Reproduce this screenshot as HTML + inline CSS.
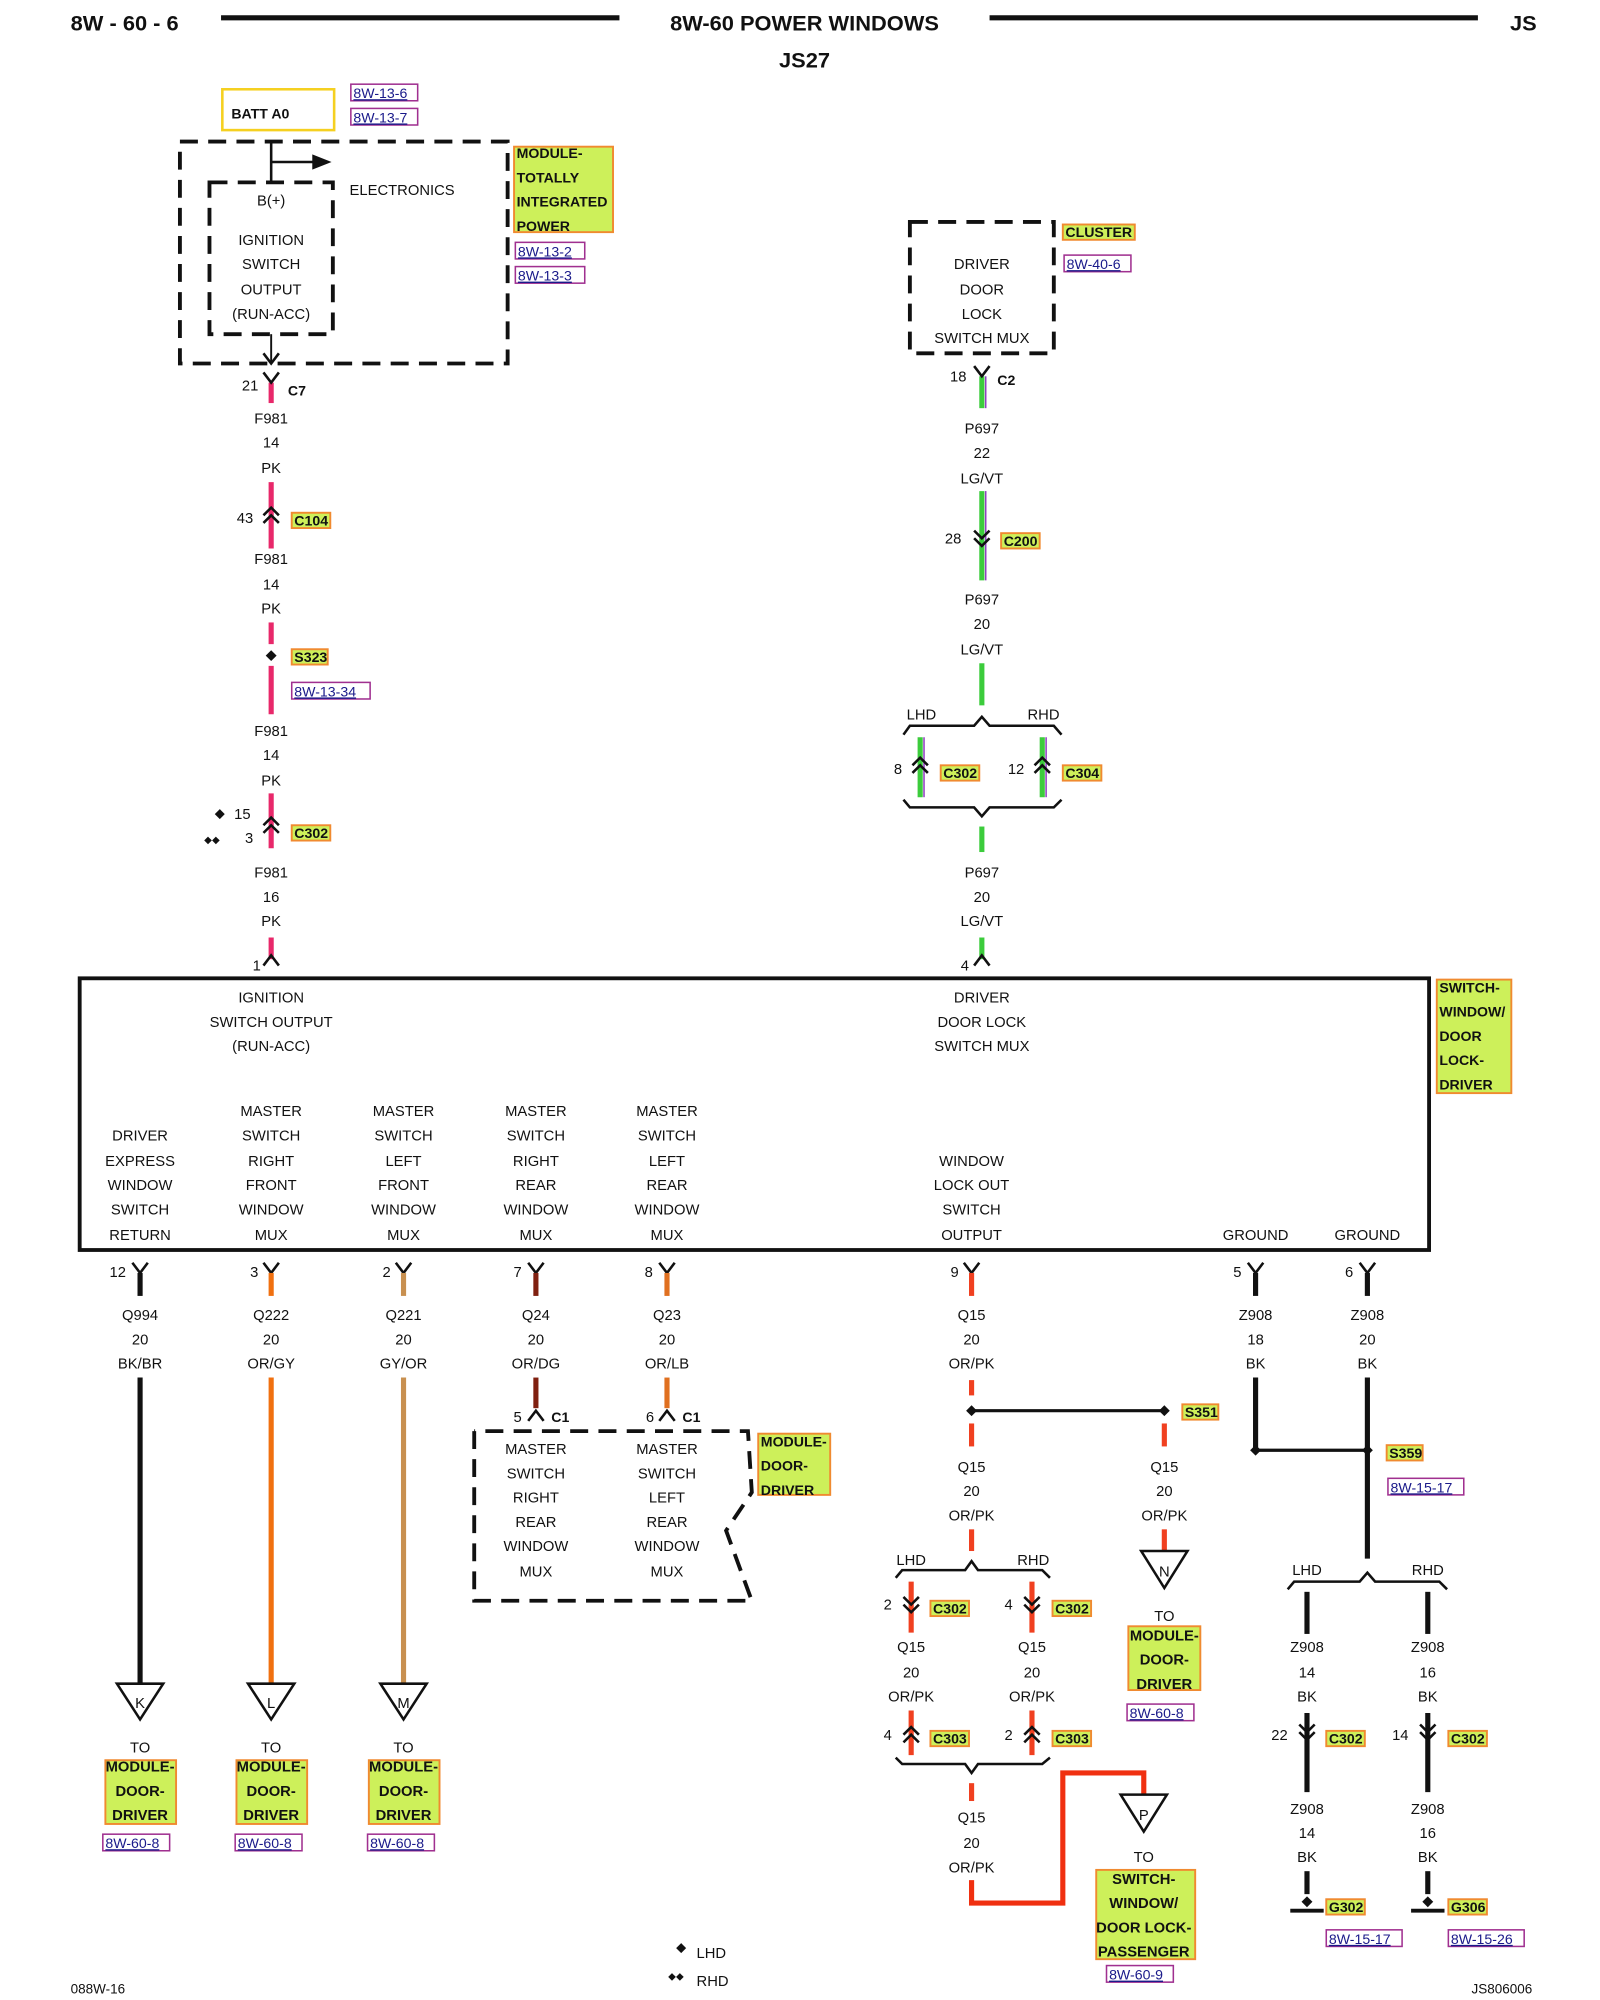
<!DOCTYPE html>
<html><head><meta charset="utf-8"><style>
html,body{margin:0;padding:0;background:#fff}
svg{display:block}
text{font-family:"Liberation Sans",Arial,sans-serif;font-size:11.5px;fill:#111;text-anchor:middle}
.h{font-size:17px;font-weight:bold;text-anchor:start}
.b{font-weight:bold;font-size:11px;text-anchor:start}
.m{font-weight:bold;font-size:11.5px;text-anchor:middle}
.l{text-anchor:start}
.r{text-anchor:end}
.ref{fill:#1a1a8a;font-size:11px;text-anchor:start;text-decoration:underline}
.lab{fill:#cdf05a;stroke:#f08a30;stroke-width:1.5}
.rb{fill:none;stroke:#a03090;stroke-width:1.2}
.d{fill:none;stroke:#111;stroke-width:3;stroke-dasharray:14,8}
.k{fill:none;stroke:#111;stroke-width:2}
.pk{stroke:#e8286a;stroke-width:4}
.gr{stroke:#3ccc3c;stroke-width:4}
.or{stroke:#f04020;stroke-width:4}
.bk{stroke:#111;stroke-width:4}
</style></head><body>
<svg width="1600" height="2000" viewBox="0 0 1245 1568" preserveAspectRatio="none" xmlns="http://www.w3.org/2000/svg">
<!-- header -->
<text x="55" y="24" class="h">8W - 60 - 6</text>
<line x1="172" y1="14" x2="482" y2="14" stroke="#111" stroke-width="4"/>
<text x="626" y="24" class="h" style="text-anchor:middle">8W-60 POWER WINDOWS</text>
<line x1="770" y1="14" x2="1150" y2="14" stroke="#111" stroke-width="4"/>
<text x="1175" y="24" class="h">JS</text>
<text x="626" y="53" class="h" style="text-anchor:middle">JS27</text>

<!-- BATT -->
<rect x="173" y="70" width="87" height="32" fill="none" stroke="#f5d020" stroke-width="2"/>
<text x="180" y="93" class="b">BATT A0</text>
<rect x="273" y="66" width="52" height="13" class="rb"/><text x="275" y="77" class="ref">8W-13-6</text>
<rect x="273" y="85" width="52" height="13" class="rb"/><text x="275" y="96" class="ref">8W-13-7</text>

<rect x="140" y="111" width="255" height="174" class="d"/>
<rect x="163" y="143" width="96" height="119" class="d"/>
<line x1="211" y1="111" x2="211" y2="143" class="k"/>
<line x1="211" y1="127" x2="245" y2="127" class="k" stroke-width="2.5"/>
<polygon points="243,121 258,127 243,133" fill="#111"/>
<text x="272" y="153" class="l">ELECTRONICS</text>
<text x="211" y="161">B(+)</text>
<text x="211" y="192">IGNITION</text>
<text x="211" y="211">SWITCH</text>
<text x="211" y="231">OUTPUT</text>
<text x="211" y="250">(RUN-ACC)</text>
<line x1="211" y1="262" x2="211" y2="285" stroke="#111" stroke-width="1.5"/>
<polyline points="205,277 211,285 217,277" class="k" stroke-width="1.5"/>
<rect x="400" y="115" width="77" height="67" class="lab"/>
<text x="402" y="124" class="b">MODULE-</text>
<text x="402" y="143" class="b">TOTALLY</text>
<text x="402" y="162" class="b">INTEGRATED</text>
<text x="402" y="181" class="b">POWER</text>
<rect x="401" y="190" width="54" height="13" class="rb"/><text x="403" y="201" class="ref">8W-13-2</text>
<rect x="401" y="209" width="54" height="13" class="rb"/><text x="403" y="220" class="ref">8W-13-3</text>

<!-- left wire -->
<line x1="211" y1="300" x2="211" y2="316" class="pk"/>
<polyline points="205,292 211,300 217,292" class="k"/>
<text x="201" y="306" class="r">21</text>
<text x="224" y="310" class="b">C7</text>
<text x="211" y="332">F981</text><text x="211" y="351">14</text><text x="211" y="371">PK</text>
<line x1="211" y1="378" x2="211" y2="430" class="pk"/>
<polyline points="205,404 211,398 217,404" class="k"/>
<polyline points="205,410 211,404 217,410" class="k"/>
<text x="197" y="410" class="r">43</text>
<rect x="227" y="402" width="30" height="12" class="lab"/><text x="229" y="412" class="b">C104</text>
<text x="211" y="442">F981</text><text x="211" y="462">14</text><text x="211" y="481">PK</text>
<line x1="211" y1="488" x2="211" y2="505" class="pk"/>
<rect x="208" y="511" width="6" height="6" fill="#111" transform="rotate(45 211 514)"/>
<line x1="211" y1="522" x2="211" y2="560" class="pk"/>
<rect x="227" y="509" width="28" height="12" class="lab"/><text x="229" y="519" class="b">S323</text>
<rect x="227" y="535" width="61" height="13" class="rb"/><text x="229" y="546" class="ref">8W-13-34</text>
<text x="211" y="577">F981</text><text x="211" y="596">14</text><text x="211" y="616">PK</text>
<line x1="211" y1="622" x2="211" y2="665" class="pk"/>
<polyline points="205,647 211,641 217,647" class="k"/>
<polyline points="205,653 211,647 217,653" class="k"/>
<text x="195" y="642" class="r">15</text>
<text x="197" y="661" class="r">3</text>
<text x="171" y="641" style="font-size:10px">◆</text>
<text x="165" y="661" style="font-size:8px">◆◆</text>
<rect x="227" y="647" width="30" height="12" class="lab"/><text x="229" y="657" class="b">C302</text>
<text x="211" y="688">F981</text><text x="211" y="707">16</text><text x="211" y="726">PK</text>
<line x1="211" y1="735" x2="211" y2="752" class="pk"/>
<polyline points="205,757 211,749 217,757" class="k"/>
<text x="203" y="761" class="r">1</text>

<!-- cluster -->
<rect x="708" y="174" width="112" height="103" class="d"/>
<text x="764" y="211">DRIVER</text><text x="764" y="231">DOOR</text><text x="764" y="250">LOCK</text><text x="764" y="269">SWITCH MUX</text>
<rect x="827" y="176" width="56" height="12" class="lab"/><text x="829" y="186" class="b">CLUSTER</text>
<rect x="828" y="200" width="52" height="13" class="rb"/><text x="830" y="211" class="ref">8W-40-6</text>
<g>
<line x1="764" y1="295" x2="764" y2="320" class="gr"/><line x1="767" y1="295" x2="767" y2="320" stroke="#9040c0" stroke-width="1.2"/>
<polyline points="758,287 764,295 770,287" class="k"/>
<text x="752" y="299" class="r">18</text><text x="776" y="302" class="b">C2</text>
<text x="764" y="340">P697</text><text x="764" y="359">22</text><text x="764" y="379">LG/VT</text>
<line x1="764" y1="385" x2="764" y2="455" class="gr"/><line x1="767" y1="385" x2="767" y2="455" stroke="#9040c0" stroke-width="1.2"/>
<polyline points="758,416 764,422 770,416" class="k"/><polyline points="758,422 764,428 770,422" class="k"/>
<text x="748" y="426" class="r">28</text>
<rect x="779" y="418" width="30" height="12" class="lab"/><text x="781" y="428" class="b">C200</text>
<text x="764" y="474">P697</text><text x="764" y="493">20</text><text x="764" y="513">LG/VT</text>
<line x1="764" y1="520" x2="764" y2="553" class="gr"/>
<text x="717" y="564">LHD</text><text x="812" y="564">RHD</text>
<polyline points="703,576 708,569 758,569 764,562 770,569 820,569 826,576" class="k"/>
<line x1="716" y1="578" x2="716" y2="625" class="gr"/><line x1="719" y1="578" x2="719" y2="625" stroke="#9040c0" stroke-width="1.2"/>
<line x1="811" y1="578" x2="811" y2="625" class="gr"/><line x1="814" y1="578" x2="814" y2="625" stroke="#9040c0" stroke-width="1.2"/>
<polyline points="710,600 716,594 722,600" class="k"/><polyline points="710,606 716,600 722,606" class="k"/>
<polyline points="805,600 811,594 817,600" class="k"/><polyline points="805,606 811,600 817,606" class="k"/>
<text x="702" y="607" class="r">8</text><text x="797" y="607" class="r">12</text>
<rect x="732" y="600" width="30" height="12" class="lab"/><text x="734" y="610" class="b">C302</text>
<rect x="827" y="600" width="30" height="12" class="lab"/><text x="829" y="610" class="b">C304</text>
<polyline points="703,627 708,633 758,633 764,640 770,633 820,633 826,627" class="k"/>
<line x1="764" y1="648" x2="764" y2="668" class="gr"/>
<text x="764" y="688">P697</text><text x="764" y="707">20</text><text x="764" y="726">LG/VT</text>
<line x1="764" y1="735" x2="764" y2="752" class="gr"/>
<polyline points="758,757 764,749 770,757" class="k"/>
<text x="754" y="761" class="r">4</text>
</g>

<!-- main box -->
<rect x="62" y="767" width="1050" height="213" fill="none" stroke="#111" stroke-width="3"/>
<text x="211" y="786">IGNITION</text><text x="211" y="805">SWITCH OUTPUT</text><text x="211" y="824">(RUN-ACC)</text>
<text x="764" y="786">DRIVER</text><text x="764" y="805">DOOR LOCK</text><text x="764" y="824">SWITCH MUX</text>
<text x="109" y="894">DRIVER</text><text x="109" y="914">EXPRESS</text><text x="109" y="933">WINDOW</text><text x="109" y="952">SWITCH</text><text x="109" y="972">RETURN</text>
<text x="211" y="875">MASTER</text><text x="211" y="894">SWITCH</text><text x="211" y="914">RIGHT</text><text x="211" y="933">FRONT</text><text x="211" y="952">WINDOW</text><text x="211" y="972">MUX</text>
<text x="314" y="875">MASTER</text><text x="314" y="894">SWITCH</text><text x="314" y="914">LEFT</text><text x="314" y="933">FRONT</text><text x="314" y="952">WINDOW</text><text x="314" y="972">MUX</text>
<text x="417" y="875">MASTER</text><text x="417" y="894">SWITCH</text><text x="417" y="914">RIGHT</text><text x="417" y="933">REAR</text><text x="417" y="952">WINDOW</text><text x="417" y="972">MUX</text>
<text x="519" y="875">MASTER</text><text x="519" y="894">SWITCH</text><text x="519" y="914">LEFT</text><text x="519" y="933">REAR</text><text x="519" y="952">WINDOW</text><text x="519" y="972">MUX</text>
<text x="756" y="914">WINDOW</text><text x="756" y="933">LOCK OUT</text><text x="756" y="952">SWITCH</text><text x="756" y="972">OUTPUT</text>
<text x="977" y="972">GROUND</text><text x="1064" y="972">GROUND</text>
<rect x="1118" y="768" width="58" height="89" class="lab"/>
<text x="1120" y="778" class="b">SWITCH-</text><text x="1120" y="797" class="b">WINDOW/</text><text x="1120" y="816" class="b">DOOR</text><text x="1120" y="835" class="b">LOCK-</text><text x="1120" y="854" class="b">DRIVER</text>

<!-- pins below -->
<g class="k">
<polyline points="103,990 109,998 115,990"/><polyline points="205,990 211,998 217,990"/><polyline points="308,990 314,998 320,990"/>
<polyline points="411,990 417,998 423,990"/><polyline points="513,990 519,998 525,990"/><polyline points="750,990 756,998 762,990"/>
<polyline points="971,990 977,998 983,990"/><polyline points="1058,990 1064,998 1070,990"/>
</g>
<text x="98" y="1001" class="r">12</text><text x="201" y="1001" class="r">3</text><text x="304" y="1001" class="r">2</text><text x="406" y="1001" class="r">7</text><text x="508" y="1001" class="r">8</text><text x="746" y="1001" class="r">9</text><text x="966" y="1001" class="r">5</text><text x="1053" y="1001" class="r">6</text>
<line x1="109" y1="998" x2="109" y2="1016" class="bk"/>
<line x1="211" y1="998" x2="211" y2="1016" stroke="#f07010" stroke-width="4"/>
<line x1="314" y1="998" x2="314" y2="1016" stroke="#c89050" stroke-width="4"/>
<line x1="417" y1="998" x2="417" y2="1016" stroke="#802010" stroke-width="4"/>
<line x1="519" y1="998" x2="519" y2="1016" stroke="#e07020" stroke-width="4"/>
<line x1="756" y1="998" x2="756" y2="1016" class="or"/>
<line x1="977" y1="998" x2="977" y2="1016" class="bk"/>
<line x1="1064" y1="998" x2="1064" y2="1016" class="bk"/>
<text x="109" y="1035">Q994</text><text x="109" y="1054">20</text><text x="109" y="1073">BK/BR</text>
<text x="211" y="1035">Q222</text><text x="211" y="1054">20</text><text x="211" y="1073">OR/GY</text>
<text x="314" y="1035">Q221</text><text x="314" y="1054">20</text><text x="314" y="1073">GY/OR</text>
<text x="417" y="1035">Q24</text><text x="417" y="1054">20</text><text x="417" y="1073">OR/DG</text>
<text x="519" y="1035">Q23</text><text x="519" y="1054">20</text><text x="519" y="1073">OR/LB</text>
<text x="756" y="1035">Q15</text><text x="756" y="1054">20</text><text x="756" y="1073">OR/PK</text>
<text x="977" y="1035">Z908</text><text x="977" y="1054">18</text><text x="977" y="1073">BK</text>
<text x="1064" y="1035">Z908</text><text x="1064" y="1054">20</text><text x="1064" y="1073">BK</text>

<!-- KLM -->
<line x1="109" y1="1080" x2="109" y2="1322" class="bk"/>
<line x1="211" y1="1080" x2="211" y2="1322" stroke="#f07010" stroke-width="4"/>
<line x1="314" y1="1080" x2="314" y2="1322" stroke="#c89050" stroke-width="4"/>
<g fill="#fff" stroke="#111" stroke-width="2">
<polygon points="91,1320 127,1320 109,1348"/><polygon points="193,1320 229,1320 211,1348"/><polygon points="296,1320 332,1320 314,1348"/>
</g>
<text x="109" y="1339">K</text><text x="211" y="1339">L</text><text x="314" y="1339">M</text>
<text x="109" y="1374">TO</text><text x="211" y="1374">TO</text><text x="314" y="1374">TO</text>
<rect x="82" y="1380" width="55" height="50" class="lab"/><rect x="184" y="1380" width="55" height="50" class="lab"/><rect x="287" y="1380" width="55" height="50" class="lab"/>
<text x="109" y="1389" class="m">MODULE-</text><text x="109" y="1408" class="m">DOOR-</text><text x="109" y="1427" class="m">DRIVER</text>
<text x="211" y="1389" class="m">MODULE-</text><text x="211" y="1408" class="m">DOOR-</text><text x="211" y="1427" class="m">DRIVER</text>
<text x="314" y="1389" class="m">MODULE-</text><text x="314" y="1408" class="m">DOOR-</text><text x="314" y="1427" class="m">DRIVER</text>
<rect x="80" y="1438" width="52" height="13" class="rb"/><text x="82" y="1449" class="ref">8W-60-8</text>
<rect x="183" y="1438" width="52" height="13" class="rb"/><text x="185" y="1449" class="ref">8W-60-8</text>
<rect x="286" y="1438" width="52" height="13" class="rb"/><text x="288" y="1449" class="ref">8W-60-8</text>

<!-- C1 module -->
<line x1="417" y1="1080" x2="417" y2="1104" stroke="#802010" stroke-width="4"/>
<line x1="519" y1="1080" x2="519" y2="1104" stroke="#e07020" stroke-width="4"/>
<polyline points="411,1114 417,1106 423,1114" class="k"/><polyline points="513,1114 519,1106 525,1114" class="k"/>
<text x="406" y="1115" class="r">5</text><text x="429" y="1115" class="b">C1</text>
<text x="509" y="1115" class="r">6</text><text x="531" y="1115" class="b">C1</text>
<polyline points="369,1122 369,1255 585,1255 565,1200 585,1170 582,1122 369,1122" class="d" stroke-dasharray="12,8"/>
<text x="417" y="1140">MASTER</text><text x="417" y="1159">SWITCH</text><text x="417" y="1178">RIGHT</text><text x="417" y="1197">REAR</text><text x="417" y="1216">WINDOW</text><text x="417" y="1236">MUX</text>
<text x="519" y="1140">MASTER</text><text x="519" y="1159">SWITCH</text><text x="519" y="1178">LEFT</text><text x="519" y="1197">REAR</text><text x="519" y="1216">WINDOW</text><text x="519" y="1236">MUX</text>
<rect x="590" y="1124" width="56" height="48" class="lab"/>
<text x="592" y="1134" class="b">MODULE-</text><text x="592" y="1153" class="b">DOOR-</text><text x="592" y="1172" class="b">DRIVER</text>

<!-- Q15 -->
<line x1="756" y1="1082" x2="756" y2="1094" class="or" stroke-width="3"/>
<line x1="756" y1="1116" x2="756" y2="1134" class="or" stroke-width="3"/>
<line x1="756" y1="1106" x2="906" y2="1106" stroke="#111" stroke-width="2.5"/>
<rect x="753" y="1103" width="6" height="6" fill="#111" transform="rotate(45 756 1106)"/>
<rect x="903" y="1103" width="6" height="6" fill="#111" transform="rotate(45 906 1106)"/>
<rect x="920" y="1101" width="28" height="12" class="lab"/><text x="922" y="1111" class="b">S351</text>
<line x1="906" y1="1116" x2="906" y2="1134" class="or" stroke-width="3"/>
<text x="756" y="1154">Q15</text><text x="756" y="1173">20</text><text x="756" y="1192">OR/PK</text>
<text x="906" y="1154">Q15</text><text x="906" y="1173">20</text><text x="906" y="1192">OR/PK</text>
<line x1="906" y1="1199" x2="906" y2="1216" class="or"/>
<polygon points="888,1216 924,1216 906,1245" fill="#fff" stroke="#111" stroke-width="2"/>
<text x="906" y="1236">N</text>
<text x="906" y="1271">TO</text>
<rect x="878" y="1275" width="56" height="50" class="lab"/>
<text x="906" y="1286" class="m">MODULE-</text><text x="906" y="1305" class="m">DOOR-</text><text x="906" y="1324" class="m">DRIVER</text>
<rect x="877" y="1336" width="52" height="13" class="rb"/><text x="879" y="1347" class="ref">8W-60-8</text>

<line x1="756" y1="1199" x2="756" y2="1216" class="or" stroke-width="3"/>
<text x="709" y="1227">LHD</text><text x="804" y="1227">RHD</text>
<polyline points="697,1237 702,1231 751,1231 756,1224 761,1231 811,1231 817,1237" class="k"/>
<line x1="709" y1="1240" x2="709" y2="1280" class="or" stroke-width="3"/>
<line x1="803" y1="1240" x2="803" y2="1280" class="or" stroke-width="3"/>
<polyline points="703,1252 709,1258 715,1252" class="k"/><polyline points="703,1258 709,1264 715,1258" class="k"/>
<polyline points="797,1252 803,1258 809,1252" class="k"/><polyline points="797,1258 803,1264 809,1258" class="k"/>
<text x="694" y="1262" class="r">2</text><text x="788" y="1262" class="r">4</text>
<rect x="724" y="1255" width="30" height="12" class="lab"/><text x="726" y="1265" class="b">C302</text>
<rect x="819" y="1255" width="30" height="12" class="lab"/><text x="821" y="1265" class="b">C302</text>
<text x="709" y="1295">Q15</text><text x="709" y="1315">20</text><text x="709" y="1334">OR/PK</text>
<text x="803" y="1295">Q15</text><text x="803" y="1315">20</text><text x="803" y="1334">OR/PK</text>
<line x1="709" y1="1341" x2="709" y2="1376" class="or" stroke-width="3"/>
<line x1="803" y1="1341" x2="803" y2="1376" class="or" stroke-width="3"/>
<polyline points="703,1360 709,1354 715,1360" class="k"/><polyline points="703,1366 709,1360 715,1366" class="k"/>
<polyline points="797,1360 803,1354 809,1360" class="k"/><polyline points="797,1366 803,1360 809,1366" class="k"/>
<text x="694" y="1364" class="r">4</text><text x="788" y="1364" class="r">2</text>
<rect x="724" y="1357" width="30" height="12" class="lab"/><text x="726" y="1367" class="b">C303</text>
<rect x="819" y="1357" width="30" height="12" class="lab"/><text x="821" y="1367" class="b">C303</text>
<polyline points="697,1378 702,1383 751,1383 756,1390 761,1383 811,1383 817,1378" class="k"/>
<line x1="756" y1="1398" x2="756" y2="1412" class="or" stroke-width="3"/>
<text x="756" y="1429">Q15</text><text x="756" y="1449">20</text><text x="756" y="1468">OR/PK</text>
<polyline points="756,1474 756,1492 827,1492 827,1390 890,1390 890,1407" fill="none" stroke="#f03010" stroke-width="4"/>
<polygon points="872,1407 908,1407 890,1436" fill="#fff" stroke="#111" stroke-width="2"/>
<text x="890" y="1427">P</text>
<text x="890" y="1460">TO</text>
<rect x="853" y="1466" width="77" height="70" class="lab"/>
<text x="890" y="1477" class="m">SWITCH-</text><text x="890" y="1496" class="m">WINDOW/</text><text x="890" y="1515" class="m">DOOR LOCK-</text><text x="890" y="1534" class="m">PASSENGER</text>
<rect x="861" y="1541" width="52" height="13" class="rb"/><text x="863" y="1552" class="ref">8W-60-9</text>

<!-- ground -->
<line x1="977" y1="1080" x2="977" y2="1137" class="bk"/>
<line x1="1064" y1="1080" x2="1064" y2="1222" class="bk"/>
<line x1="977" y1="1137" x2="1064" y2="1137" stroke="#111" stroke-width="2.5"/>
<rect x="974" y="1134" width="6" height="6" fill="#111" transform="rotate(45 977 1137)"/>
<rect x="1061" y="1134" width="6" height="6" fill="#111" transform="rotate(45 1064 1137)"/>
<rect x="1079" y="1133" width="28" height="12" class="lab"/><text x="1081" y="1143" class="b">S359</text>
<rect x="1080" y="1159" width="59" height="13" class="rb"/><text x="1082" y="1170" class="ref">8W-15-17</text>
<text x="1017" y="1235">LHD</text><text x="1111" y="1235">RHD</text>
<polyline points="1002,1246 1007,1240 1058,1240 1064,1233 1070,1240 1120,1240 1126,1246" class="k"/>
<line x1="1017" y1="1248" x2="1017" y2="1281" class="bk"/><line x1="1111" y1="1248" x2="1111" y2="1281" class="bk"/>
<text x="1017" y="1295">Z908</text><text x="1017" y="1315">14</text><text x="1017" y="1334">BK</text>
<text x="1111" y="1295">Z908</text><text x="1111" y="1315">16</text><text x="1111" y="1334">BK</text>
<line x1="1017" y1="1343" x2="1017" y2="1405" class="bk"/><line x1="1111" y1="1343" x2="1111" y2="1405" class="bk"/>
<polyline points="1011,1352 1017,1358 1023,1352" class="k"/><polyline points="1011,1358 1017,1364 1023,1358" class="k"/>
<polyline points="1105,1352 1111,1358 1117,1352" class="k"/><polyline points="1105,1358 1111,1364 1117,1358" class="k"/>
<text x="1002" y="1364" class="r">22</text><text x="1096" y="1364" class="r">14</text>
<rect x="1032" y="1357" width="30" height="12" class="lab"/><text x="1034" y="1367" class="b">C302</text>
<rect x="1127" y="1357" width="30" height="12" class="lab"/><text x="1129" y="1367" class="b">C302</text>
<text x="1017" y="1422">Z908</text><text x="1017" y="1441">14</text><text x="1017" y="1460">BK</text>
<text x="1111" y="1422">Z908</text><text x="1111" y="1441">16</text><text x="1111" y="1460">BK</text>
<line x1="1017" y1="1467" x2="1017" y2="1485" class="bk"/><line x1="1111" y1="1467" x2="1111" y2="1485" class="bk"/>
<rect x="1014" y="1488" width="6" height="6" fill="#111" transform="rotate(45 1017 1491)"/>
<rect x="1108" y="1488" width="6" height="6" fill="#111" transform="rotate(45 1111 1491)"/>
<line x1="1004" y1="1498" x2="1030" y2="1498" stroke="#111" stroke-width="3"/>
<line x1="1098" y1="1498" x2="1124" y2="1498" stroke="#111" stroke-width="3"/>
<rect x="1032" y="1489" width="30" height="12" class="lab"/><text x="1034" y="1499" class="b">G302</text>
<rect x="1127" y="1489" width="30" height="12" class="lab"/><text x="1129" y="1499" class="b">G306</text>
<rect x="1032" y="1513" width="59" height="13" class="rb"/><text x="1034" y="1524" class="ref">8W-15-17</text>
<rect x="1127" y="1513" width="59" height="13" class="rb"/><text x="1129" y="1524" class="ref">8W-15-26</text>

<!-- legend / footer -->
<text x="530" y="1530" style="font-size:10px">◆</text><text x="542" y="1535" class="l">LHD</text>
<text x="526" y="1552" style="font-size:8px">◆◆</text><text x="542" y="1557" class="l">RHD</text>
<text x="55" y="1563" class="l" style="font-size:10.5px">088W-16</text>
<text x="1145" y="1563" class="l" style="font-size:10.5px">JS806006</text>
</svg>
</body></html>
